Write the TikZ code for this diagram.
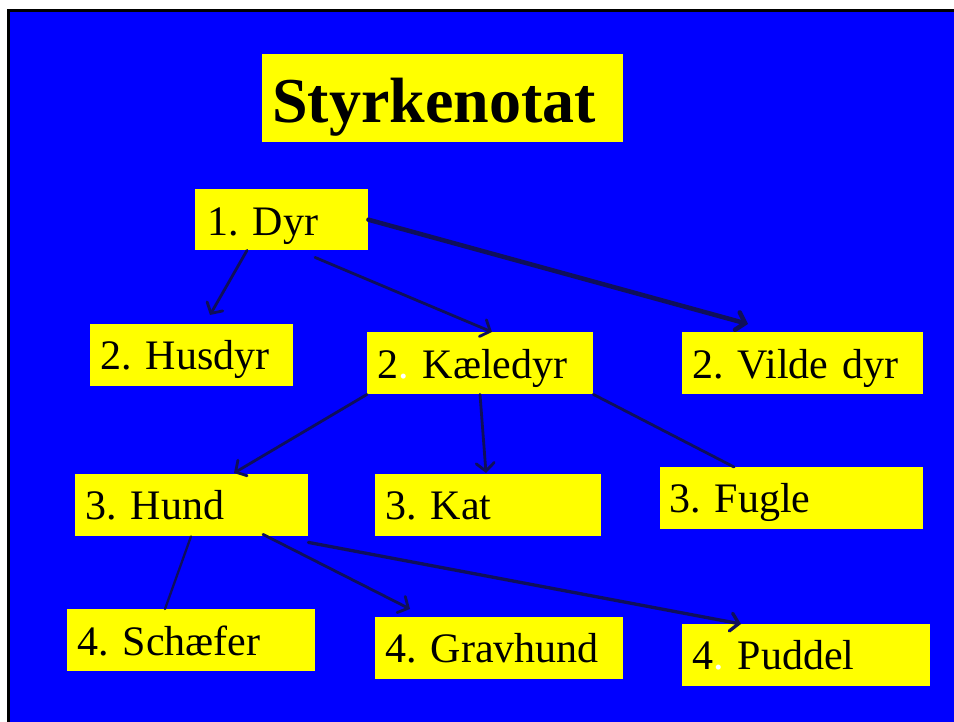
\documentclass[tikz,border=0pt]{standalone}
\usepackage{fontspec}
\setmainfont{Liberation Serif}
\usetikzlibrary{arrows.meta}
\definecolor{bg}{RGB}{0,0,255}
\definecolor{boxy}{RGB}{255,255,0}
\definecolor{lnk}{RGB}{15,15,90}
\tikzset{
  card/.style={fill=boxy, draw=none, anchor=north west, inner ysep=0pt, align=left,
    font=\fontsize{42bp}{46bp}\selectfont, text=black},
  link/.style={draw=lnk, line width=2.8bp, line cap=round},
  arr/.style={link, -{Straight Barb[length=8bp,width=18bp,line cap=round]}},
}
\frenchspacing
\begin{document}
\frenchspacing
\begin{tikzpicture}[x=1bp,y=-1bp]
\useasboundingbox (0,0) rectangle (954,722);
\fill[white] (0,0) rectangle (954,722);
\fill[black] (7,9) rectangle (954,722);
\fill[bg] (10,12) rectangle (954,722);
% title
\node[card, font=\fontsize{64bp}{70bp}\selectfont\bfseries, inner xsep=10bp, text width=341bp,
  text height=68bp, text depth=20bp] (title) at (262,54) {Styrkenotat};
% level 1
\node[card, inner xsep=12bp, text width=149bp, text height=46bp, text depth=15bp] (dyr) at (195,189) {1. Dyr};
% level 2
\node[card, inner xsep=10bp, text width=183bp, text height=45bp, text depth=17bp] (husdyr) at (90,324) {2. Husdyr};
\node[card, inner xsep=10bp, text width=206bp, text height=46bp, text depth=16bp] (kaeledyr) at (367,332) {2{\color{white}.} Kæledyr};
\node[card, inner xsep=10bp, text width=221bp, text height=46bp, text depth=16bp] (vilde) at (682,332) {2. Vilde dyr};
% level 3
\node[card, inner xsep=10bp, text width=213bp, text height=45bp, text depth=17bp] (hund) at (75,474) {3. Hund};
\node[card, inner xsep=10bp, text width=206bp, text height=45bp, text depth=17bp] (kat) at (375,474) {3. Kat};
\node[card, inner xsep=9bp, text width=245bp, text height=45bp, text depth=17bp] (fugle) at (660,467) {3. Fugle};
% level 4
\node[card, inner xsep=10bp, text width=228bp, text height=46bp, text depth=16bp] (schaefer) at (67,609) {4. Schæfer};
\node[card, inner xsep=10bp, text width=228bp, text height=45bp, text depth=17bp] (gravhund) at (375,617) {4. Gravhund};
\node[card, inner xsep=10bp, text width=228bp, text height=45bp, text depth=17bp] (puddel) at (682,624) {4{\color{white}.} Puddel};
% connectors
\draw[arr] ([xshift=52bp]dyr.south west) -- ([xshift=120bp,yshift=9bp]husdyr.north west);
\draw[arr] ([xshift=120bp,yshift=-7bp]dyr.south west) -- ([xshift=125bp]kaeledyr.north west);
\draw[arr, line width=4.5bp] (dyr.east) -- ([xshift=66bp,yshift=8bp]vilde.north west);
\draw[arr] (kaeledyr.south west) -- ([xshift=159bp,yshift=1bp]hund.north west);
\draw[arr] ([xshift=113bp]kaeledyr.south west) -- ([xshift=111bp,yshift=1bp]kat.north west);
\draw[link] (kaeledyr.south east) -- ([xshift=74bp]fugle.north west);
\draw[link, line width=2.3bp] ([xshift=116bp]hund.south west) -- ([xshift=98bp]schaefer.north west);
\draw[arr] ([xshift=188bp,yshift=2bp]hund.south west) -- ([xshift=35bp,yshift=8bp]gravhund.north west);
\draw[arr, line width=3.3bp] ([yshift=-6bp]hund.south east) -- ([xshift=59bp]puddel.north west);
\end{tikzpicture}
\end{document}
